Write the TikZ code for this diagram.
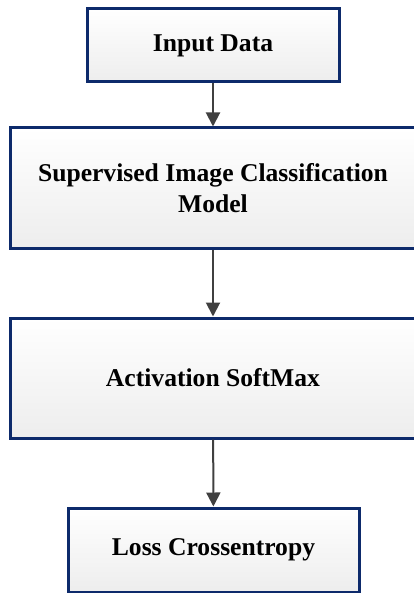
\documentclass[tikz,border=0pt]{standalone}
\usepackage{fontspec}
\setmainfont{Liberation Serif}
\usetikzlibrary{arrows.meta}

\definecolor{boxline}{HTML}{0D2A6B}
\definecolor{arrowgray}{HTML}{404040}

\tikzset{
  block/.style={rectangle, draw=boxline, line width=3pt, top color=white,
    bottom color=black!7, align=center,
    font=\fontsize{25.6}{31}\selectfont\bfseries},
  flow/.style={draw=arrowgray, line width=2pt,
    -{Triangle[width=14pt,length=14pt]}}
}

\begin{document}
\begin{tikzpicture}[x=1pt, y=-1pt]
  \useasboundingbox (0, 0) rectangle (414, 593);
  \node (input) [block, minimum width=252pt, minimum height=73pt]  at (213, 45.5) {Input Data};
  \node (model) [block, minimum width=406pt, minimum height=120pt] at (213, 188) {Supervised Image Classification\\Model};
  \node (act)   [block, minimum width=406pt, minimum height=120pt] at (213, 378) {Activation SoftMax};
  \node (loss)  [block, minimum width=291pt, minimum height=84pt]  at (213.5, 550) {Loss Crossentropy};
  \draw[flow] (input) -- (model);
  \draw[flow] (model) -- (act);
  \draw[flow] (act) -- (loss);
\end{tikzpicture}
\end{document}
